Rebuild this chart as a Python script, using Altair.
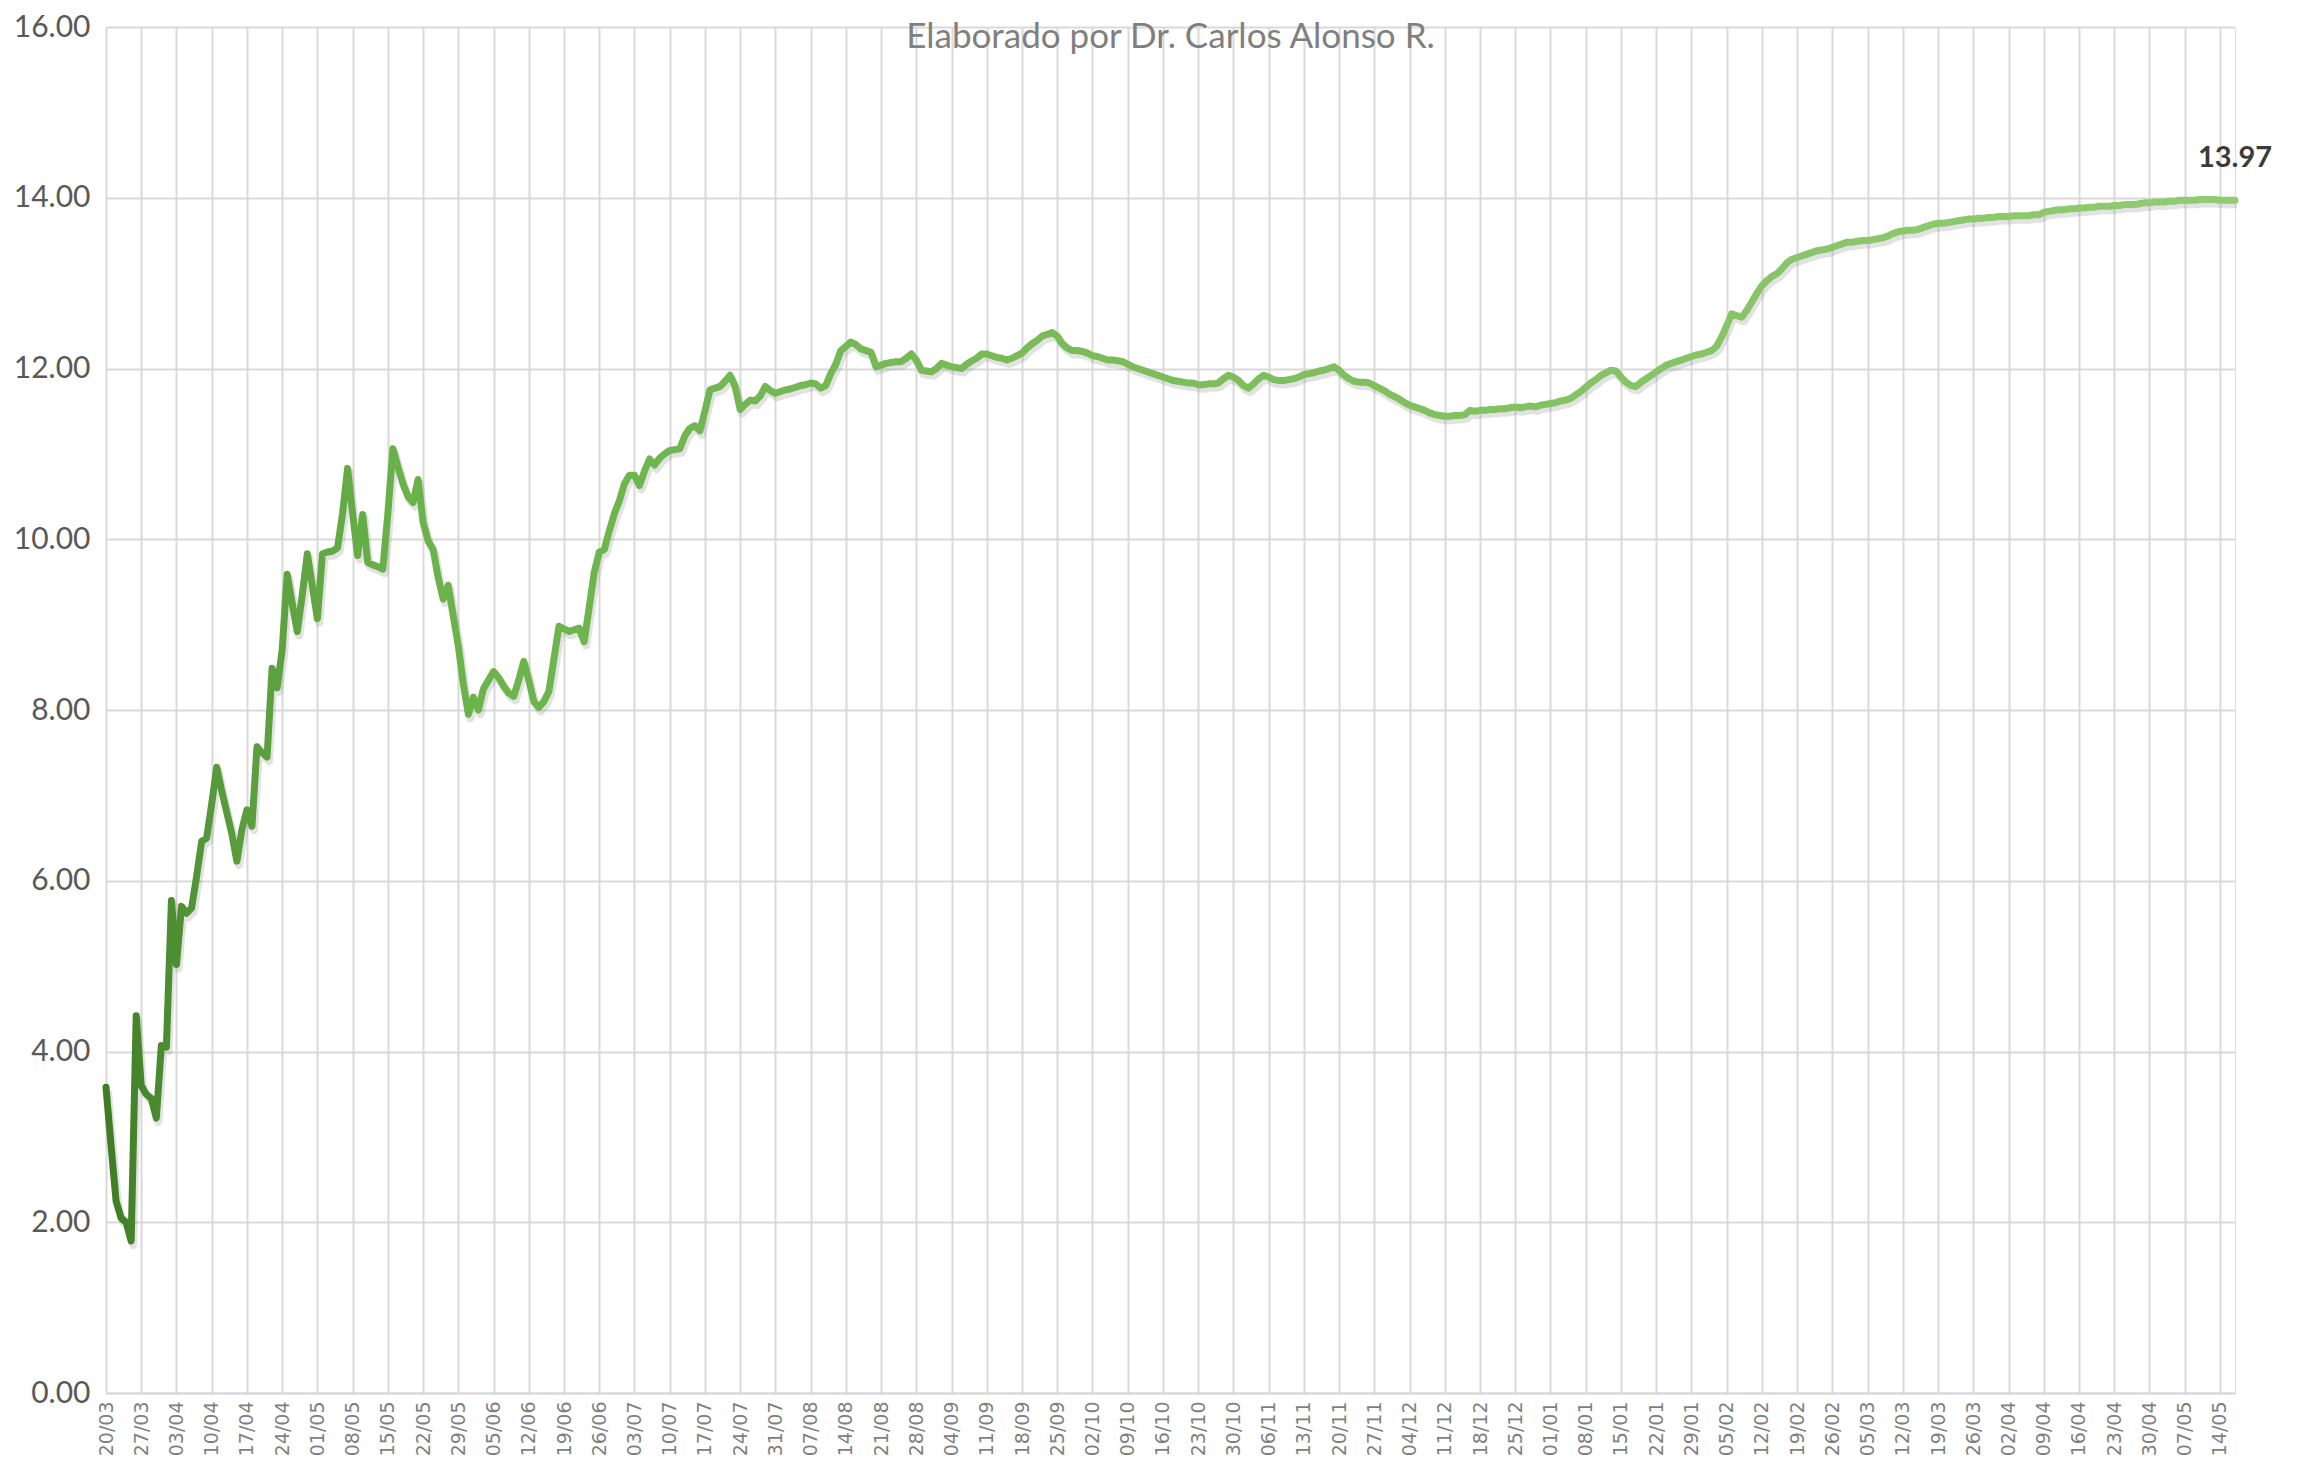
import altair as alt
import pandas as pd

# ---- data (daily values, starting 20/03/2020) ----
start_date = (2020, 3, 20)
end_date = (2021, 5, 17)
last_tick = (2021, 5, 14)

spring_2020 = [
    3.58, 2.90, 2.25, 2.05, 2.00, 1.78, 4.42,
    3.60, 3.50, 3.45, 3.22, 4.07, 4.05, 5.77,
    5.02, 5.70, 5.62, 5.68, 6.05, 6.46, 6.50,
    6.90, 7.33, 7.05, 6.80, 6.55, 6.23, 6.60,
    6.83, 6.64, 7.57, 7.50, 7.45, 8.49, 8.26,
    8.70, 9.59, 9.25, 8.92, 9.35, 9.83, 9.45,
    9.07, 9.83, 9.85, 9.86, 9.90, 10.30, 10.83,
    10.30, 9.81, 10.29, 9.73, 9.70, 9.68, 9.65,
    10.30, 11.06, 10.85, 10.65, 10.50, 10.43, 10.70,
    10.20, 9.98, 9.88, 9.55, 9.30, 9.46, 9.10,
]
summer_2020 = [
    8.75, 8.30, 7.95, 8.15, 8.00, 8.25, 8.35,
    8.45, 8.38, 8.28, 8.20, 8.16, 8.35, 8.57,
    8.35, 8.10, 8.03, 8.10, 8.22, 8.60, 8.98,
    8.95, 8.92, 8.94, 8.96, 8.80, 9.20, 9.61,
    9.85, 9.88, 10.10, 10.30, 10.45, 10.65, 10.75,
    10.75, 10.63, 10.80, 10.94, 10.87, 10.95, 11.00,
    11.04, 11.05, 11.06, 11.21, 11.30, 11.33, 11.27,
    11.50, 11.75, 11.77, 11.79, 11.85, 11.92, 11.79,
    11.52, 11.58, 11.63, 11.62, 11.68, 11.79, 11.74,
    11.71, 11.73, 11.75, 11.76, 11.78, 11.80, 11.81,
    11.83, 11.82, 11.77, 11.80, 11.94, 12.05, 12.21,
    12.26, 12.31, 12.28, 12.23, 12.21, 12.19, 12.02,
]
autumn_2020 = [
    12.04, 12.06, 12.07, 12.08, 12.08, 12.12, 12.17,
    12.10, 11.98, 11.97, 11.96, 12.00, 12.06, 12.04,
    12.02, 12.01, 12.00, 12.05, 12.09, 12.12, 12.17,
    12.17, 12.15, 12.13, 12.12, 12.10, 12.12, 12.15,
    12.18, 12.24, 12.29, 12.33, 12.38, 12.40, 12.42,
    12.38, 12.29, 12.24, 12.21, 12.21, 12.20, 12.18,
    12.15, 12.14, 12.12, 12.10, 12.10, 12.09, 12.08,
    12.05, 12.02, 12.00, 11.98, 11.96, 11.94, 11.92,
    11.90, 11.88, 11.86, 11.85, 11.84, 11.83, 11.83,
    11.81, 11.81, 11.82, 11.82, 11.83, 11.88, 11.92,
    11.90, 11.86, 11.80, 11.77, 11.82, 11.88, 11.92,
    11.90, 11.87, 11.86, 11.86, 11.87, 11.88, 11.90,
    11.93, 11.94, 11.95, 11.97, 11.98, 12.00, 12.02,
    11.98, 11.92, 11.88, 11.85, 11.84, 11.84, 11.83,
]
winter_2020_21 = [
    11.80, 11.77, 11.74, 11.70, 11.67, 11.64, 11.60,
    11.57, 11.55, 11.53, 11.51, 11.48, 11.46, 11.45,
    11.44, 11.44, 11.45, 11.45, 11.46, 11.51, 11.50,
    11.51, 11.51, 11.52, 11.52, 11.53, 11.53, 11.54,
    11.55, 11.54, 11.55, 11.56, 11.55, 11.57, 11.58,
    11.59, 11.60, 11.62, 11.63, 11.65, 11.69, 11.73,
    11.78, 11.83, 11.87, 11.92, 11.95, 11.98, 11.97,
    11.90, 11.84, 11.80, 11.79, 11.84, 11.88, 11.92,
    11.96, 12.00, 12.04, 12.06, 12.08, 12.10, 12.12,
    12.14, 12.16, 12.17, 12.19, 12.21, 12.26, 12.37,
    12.50, 12.64, 12.62, 12.60, 12.68, 12.78, 12.88,
    12.97, 13.03, 13.08, 13.11, 13.17, 13.24, 13.28,
]
spring_2021 = [
    13.30, 13.32, 13.34, 13.36, 13.38, 13.39, 13.40,
    13.42, 13.44, 13.46, 13.48, 13.48, 13.49, 13.50,
    13.50, 13.51, 13.52, 13.53, 13.55, 13.58, 13.60,
    13.61, 13.62, 13.62, 13.63, 13.65, 13.67, 13.69,
    13.70, 13.70, 13.71, 13.72, 13.73, 13.74, 13.75,
    13.75, 13.76, 13.76, 13.77, 13.77, 13.78, 13.78,
    13.78, 13.79, 13.79, 13.79, 13.79, 13.80, 13.80,
    13.83, 13.84, 13.85, 13.86, 13.86, 13.87, 13.87,
    13.88, 13.88, 13.89, 13.89, 13.90, 13.90, 13.90,
    13.91, 13.91, 13.92, 13.92, 13.92, 13.93, 13.94,
    13.94, 13.95, 13.95, 13.95, 13.96, 13.96, 13.97,
    13.97, 13.97, 13.97, 13.98, 13.98, 13.98, 13.98,
    13.97, 13.97, 13.97, 13.97,
]
y_ticks = [0, 2, 4, 6, 8, 10, 12, 14, 16]
title_text = ["Elaborado por Dr. Carlos Alonso R."]

values = spring_2020 + summer_2020 + autumn_2020 + winter_2020_21 + spring_2021
dates = pd.date_range(pd.Timestamp(*start_date), periods=len(values), freq="D")
df = pd.DataFrame({"date": dates.strftime("%Y-%m-%dT00:00:00"), "value": values})
last = df.tail(1)

week_ticks = pd.date_range(pd.Timestamp(*start_date), pd.Timestamp(*last_tick), freq="7D")
x_values = [alt.DateTime(year=d.year, month=d.month, date=d.day) for d in week_ticks]

W, H = 2129, 1366
grid_color = "#d9d9d9"

x_enc = alt.X(
    "date:T",
    scale=alt.Scale(
        domain=[alt.DateTime(year=start_date[0], month=start_date[1], date=start_date[2]),
                alt.DateTime(year=end_date[0], month=end_date[1], date=end_date[2])],
        nice=False,
    ),
    axis=alt.Axis(
        values=x_values, format="%d/%m", labelAngle=270, title=None,
        labelFont="DejaVu Sans", labelFontSize=19, labelColor="#7f7f7f",
        ticks=False, domainColor=grid_color, domainWidth=2,
        grid=True, gridColor=grid_color, gridWidth=2,
        labelPadding=8, labelOverlap=False, labelFlush=False,
    ),
)
y_enc = alt.Y(
    "value:Q",
    scale=alt.Scale(domain=[0, 16], nice=False),
    axis=alt.Axis(
        values=y_ticks, format=".2f", title=None,
        labelFont="Lato", labelFontSize=30, labelColor="#595959",
        ticks=False, domain=False, grid=True, gridColor=grid_color, gridWidth=2,
        labelPadding=16,
    ),
)

gradient = alt.Gradient(
    gradient="linear",
    stops=[
        alt.GradientStop(color="#3f7c24", offset=0.0),
        alt.GradientStop(color="#56993a", offset=0.05),
        alt.GradientStop(color="#6ab24a", offset=0.14),
        alt.GradientStop(color="#7cbd5a", offset=0.5),
        alt.GradientStop(color="#92cb72", offset=1.0),
    ],
    x1=0, x2=1, y1=0, y2=0,
)

base = alt.Chart(df)
shadow = base.mark_line(color="#7a7a7a", opacity=0.22, strokeWidth=8, xOffset=2, yOffset=4,
                        strokeJoin="round").encode(x=x_enc, y=y_enc)
line = base.mark_line(stroke=gradient, strokeWidth=7, strokeJoin="round",
                      strokeCap="round").encode(x=x_enc, y=y_enc)
label = alt.Chart(last).mark_text(
    dy=-42, fontSize=29, fontWeight="bold", font="Lato", color="#3a3a3a", align="center"
).encode(x=x_enc, y=y_enc, text=alt.Text("value:Q", format=".2f"))

caption = alt.Chart(pd.DataFrame({"t": title_text})).mark_text(
    font="Lato", fontSize=35, color="#7f7f7f", align="center", baseline="middle"
).encode(x=alt.value(W / 2), y=alt.value(10), text="t:N")

chart = (
    alt.layer(shadow, line, label, caption)
    .properties(
        width=W, height=H,
        padding={"left": 5, "top": 4, "right": 5, "bottom": 5},
    )
    .configure_view(stroke=None)
    .configure(background="white")
)

chart.save("out.html", embed_options={"renderer": "svg", "actions": False})
